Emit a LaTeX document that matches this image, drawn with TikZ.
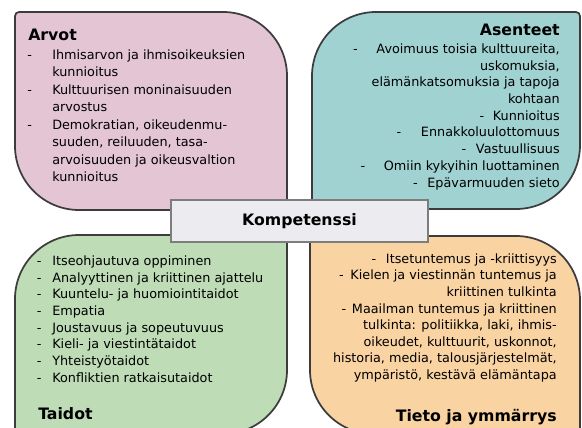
\documentclass[tikz,border=0pt]{standalone}
\usepackage{fontspec}
\setmainfont{DejaVu Sans}
\usepackage{tikz}
\definecolor{arvotpink}{RGB}{227,197,212}
\definecolor{asenteal}{RGB}{160,210,209}
\definecolor{taitogreen}{RGB}{190,220,182}
\definecolor{tietoorange}{RGB}{250,211,162}
\definecolor{kompgray}{RGB}{236,236,240}
\definecolor{edgegray}{RGB}{60,60,60}
\newcommand{\lb}[2]{\makebox[#1][l]{-}#2}
\newcommand{\rb}[2]{-\hspace{#1}#2}

\begin{document}
\begin{tikzpicture}[x=0.75pt,y=0.75pt,yscale=-1,xscale=1,
  quad/.style={draw=edgegray,line width=1.3pt},
  title/.style={inner sep=0pt,font=\fontsize{11.8}{14}\selectfont\bfseries},
  listl/.style={inner sep=0pt,anchor=base west},
  listr/.style={inner sep=0pt,anchor=base east},
  kompbox/.style={draw={rgb,255:red,125;green,125;blue,125},line width=1.1pt,fill=kompgray,
    minimum width=192.75pt,minimum height=31.5pt,inner sep=0pt,
    font=\fontsize{11.8}{14}\selectfont\bfseries}]
\useasboundingbox (0,0) rectangle (582,428);
\fill[white] (0,0) rectangle (582,428);
\clip (0,0) rectangle (582,428);

%Shape: Rounded Rect [Arvot]
\draw [quad,fill=arvotpink] (19,12) -- (223,12) .. controls (258.3,12) and (287,40.7) .. (287,76) -- (287,206) .. controls (287,208.2) and (285.2,210) .. (283,210) -- (79,210) .. controls (43.7,210) and (15,181.3) .. (15,146) -- (15,16) .. controls (15,13.8) and (16.8,12) .. (19,12) -- cycle ;
%Shape: Rounded Rect [Asenteet]
\draw [quad,fill=asenteal] (376,12) -- (576,12) .. controls (578.2,12) and (580,13.8) .. (580,16) -- (580,145) .. controls (580,180.3) and (551.3,209) .. (516,209) -- (316,209) .. controls (313.8,209) and (312,207.2) .. (312,205) -- (312,76) .. controls (312,40.7) and (340.7,12) .. (376,12) -- cycle ;
%Shape: Rounded Rect [Taidot]
\draw [quad,fill=taitogreen] (79,235) -- (283,235) .. controls (285.2,235) and (287,236.8) .. (287,239) -- (287,370) .. controls (287,405.3) and (258.3,434) .. (223,434) -- (19,434) .. controls (16.8,434) and (15,432.2) .. (15,430) -- (15,299) .. controls (15,263.7) and (43.7,235) .. (79,235) -- cycle ;
%Shape: Rounded Rect [Tieto]
\draw [quad,fill=tietoorange] (314,236) -- (516,236) .. controls (551.3,236) and (580,264.7) .. (580,300) -- (580,430) .. controls (580,432.2) and (578.2,434) .. (576,434) -- (374,434) .. controls (338.7,434) and (310,405.3) .. (310,370) -- (310,240) .. controls (310,237.8) and (311.8,236) .. (314,236) -- cycle ;

% Text Node
\node [title,anchor=base west] (arvot) at (28,40.5) {Arvot};
% Text Node
\node [listl,font=\fontsize{9.6}{13.1}\selectfont] (arvotlist) at (27.2,59.3) {\begin{tabular}[t]{@{}l@{}}
\lb{18.6pt}{Ihmisarvon ja ihmisoikeuksien}\\
\hspace*{18.6pt}kunnioitus\\
\lb{18.6pt}{Kulttuurisen moninaisuuden}\\
\hspace*{18.6pt}arvostus\\
\lb{18.6pt}{Demokratian, oikeudenmu-}\\
\hspace*{18.6pt}suuden, reiluuden, tasa-\\
\hspace*{18.6pt}arvoisuuden ja oikeusvaltion\\
\hspace*{18.6pt}kunnioitus
\end{tabular}};

% Text Node
\node [title,anchor=base east] (asenteet) at (560,36) {Asenteet};
% Text Node
\node [listr,font=\fontsize{9.6}{12.55}\selectfont] (asenteetlist) at (560,53.3) {\begin{tabular}[t]{@{}r@{}}
\rb{14pt}{Avoimuus toisia kulttuureita,}\\
uskomuksia,\\
elämänkatsomuksia ja tapoja\\
kohtaan\\
\rb{6.5pt}{Kunnioitus}\\
\rb{14.8pt}{Ennakkoluulottomuus}\\
\rb{7.3pt}{Vastuullisuus}\\
\rb{14pt}{Omiin kykyihin luottaminen}\\
\rb{7.3pt}{Epävarmuuden sieto}
\end{tabular}};

% Text Node
\node [listl,font=\fontsize{9.6}{12.55}\selectfont] (taidotlist) at (36.7,265.3) {\begin{tabular}[t]{@{}l@{}}
\lb{11.5pt}{Itseohjautuva oppiminen}\\
\lb{11.5pt}{Analyyttinen ja kriittinen ajattelu}\\
\lb{11.5pt}{Kuuntelu- ja huomiointitaidot}\\
\lb{11.5pt}{Empatia}\\
\lb{11.5pt}{Joustavuus ja sopeutuvuus}\\
\lb{11.5pt}{Kieli- ja viestintätaidot}\\
\lb{11.5pt}{Yhteistyötaidot}\\
\lb{11.5pt}{Konfliktien ratkaisutaidot}
\end{tabular}};
% Text Node
\node [title,anchor=base west] (taidot) at (38,419.5) {Taidot};

% Text Node
\node [listr,font=\fontsize{9.6}{12.45}\selectfont] (tietolist) at (557,263.3) {\begin{tabular}[t]{@{}r@{}}
\rb{7.3pt}{Itsetuntemus ja -kriittisyys}\\
\rb{5pt}{Kielen ja viestinnän tuntemus ja}\\
kriittinen tulkinta\\
\rb{4.3pt}{Maailman tuntemus ja kriittinen}\\
tulkinta: politiikka, laki, ihmis-\\
oikeudet, kulttuurit, uskonnot,\\
historia, media, talousjärjestelmät,\\
ympäristö, kestävä elämäntapa
\end{tabular}};
% Text Node
\node [title,anchor=base east] (tieto) at (557,421) {Tieto ja ymmärrys};

% Text Node
\node [kompbox] (komp) at (299.5,221) {Kompetenssi};

\end{tikzpicture}
\end{document}
